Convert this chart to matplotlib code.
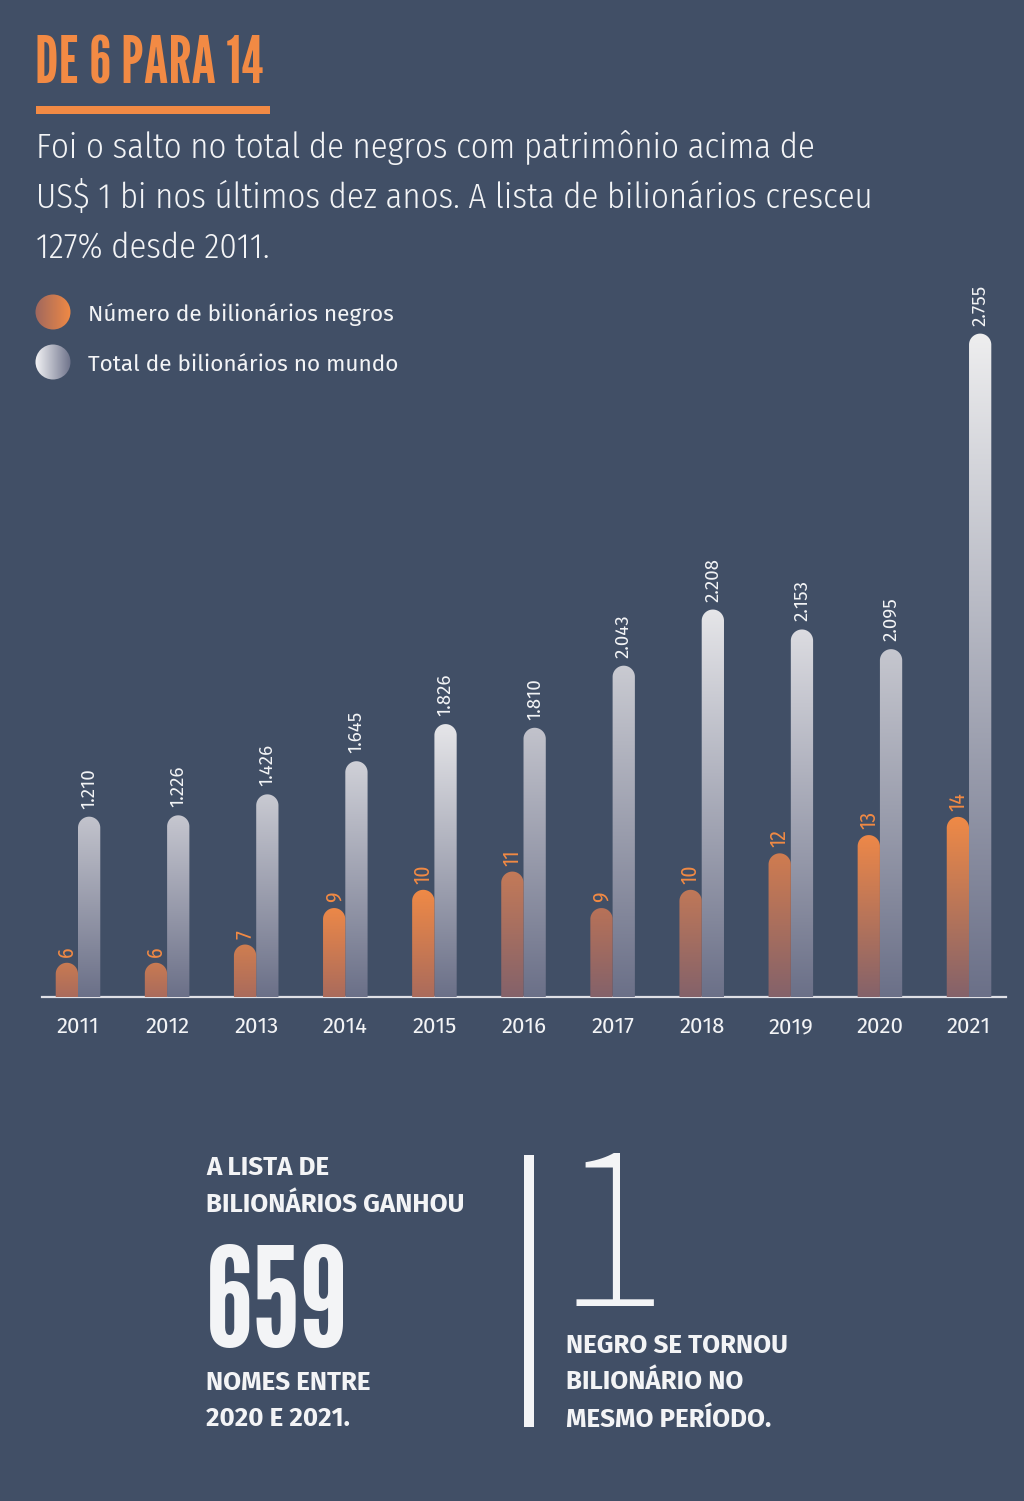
import numpy as np
import matplotlib
matplotlib.use("Agg")
import matplotlib.pyplot as plt
from matplotlib import font_manager as fm
from matplotlib.path import Path
from matplotlib.patches import Rectangle
from matplotlib.transforms import IdentityTransform
from matplotlib.colors import to_rgb

# ---------------- data ----------------
years = ["2011", "2012", "2013", "2014", "2015", "2016", "2017", "2018", "2019", "2020", "2021"]
total_billionaires = [1210, 1226, 1426, 1645, 1826, 1810, 2043, 2208, 2153, 2095, 2755]
black_billionaires = [6, 6, 7, 9, 10, 11, 9, 10, 12, 13, 14]

title = "DE 6 PARA 14"
subtitle_lines = ["Foi o salto no total de negros com patrimônio acima de",
                  "US$ 1 bi nos últimos dez anos. A lista de bilionários cresceu",
                  "127% desde 2011."]
legend_labels = ["Número de bilionários negros", "Total de bilionários no mundo"]
left_block = ["A LISTA DE", "BILIONÁRIOS GANHOU", "659", "NOMES ENTRE", "2020 E 2021."]
right_block = ["1", "NEGRO SE TORNOU", "BILIONÁRIO NO", "MESMO PERÍODO."]

# ---------------- style ----------------
BG = "#414f66"
ORANGE = "#f28a44"
WHITE = "#f3f4f6"
GREY_BOTTOM = "#6b7088"
grey_tops = ["#c3c4cd", "#c6c7d0", "#c9cad2", "#d0d1d8", "#e6e6e9", "#c2c3cc",
             "#cacbd2", "#e6e6e9", "#dcdce1", "#c6c7cf", "#eeeeef"]
orange_tops = ["#c97b52", "#c97b52", "#d07e50", "#ec8848", "#f08a46", "#c47a58",
               "#b87258", "#c07858", "#d07c50", "#ee8848", "#f08a46"]
orange_bottoms = ["#aa6b5c", "#aa6b5c", "#aa6b5c", "#aa6b5c", "#aa6b5c", "#84626a",
                  "#84626a", "#84626a", "#84626a", "#84626a", "#84626a"]

_names = {f.name for f in fm.fontManager.ttflist}


def pick(*cands):
    for c in cands:
        if c in _names:
            return [c, "DejaVu Sans"]
    return ["DejaVu Sans"]


F_TITLE = pick("League Gothic", "Saira ExtraCondensed")
F_BIG = pick("League Gothic", "Saira ExtraCondensed")
F_ONE = pick("Source Sans 3", "Fira Sans Extra Condensed")
F_BODY = pick("Fira Sans Condensed", "Fira Sans", "Noto Sans")
F_UI = pick("Fira Sans", "Noto Sans")
F_LAB = pick("Fira Sans", "Noto Sans")
F_NUM = pick("Fira Sans Condensed", "Fira Sans", "Noto Sans")

W, H = 1024, 1501
fig = plt.figure(figsize=(W / 100, H / 100), dpi=100, facecolor=BG)


def fx(px):
    return px / W


def fy(py):
    return 1 - py / H


def ftext(x, y, s, **kw):
    return fig.text(fx(x), fy(y), s, **kw)


# ---------------- axes ----------------
AX_L, AX_R, AX_B, AX_T = 42, 1006, 997, 230
ax = fig.add_axes([fx(AX_L), fy(AX_B), (AX_R - AX_L) / W, (AX_B - AX_T) / H])
ax.patch.set_visible(False)

P = 3.5


def fwd(v):
    v = np.asarray(v, float) / 1000.0
    return np.sign(v) * np.abs(v) ** P


def inv(u):
    u = np.asarray(u, float)
    return np.sign(u) * np.abs(u) ** (1.0 / P) * 1000.0


ax.set_yscale("function", functions=(fwd, inv))
ax.set_ylim(-1946, 2904)
ax.set_xlim(-0.404, 10.415)
ax.set_yticks([])
for s in ["left", "right", "top"]:
    ax.spines[s].set_visible(False)
ax.spines["bottom"].set_color("#dfe0e6")
ax.spines["bottom"].set_linewidth(1.6)
ax.set_xticks(range(len(years)), labels=years)
ax.tick_params(axis="x", length=0, pad=26, labelsize=16, labelcolor=WHITE)
for lab in ax.get_xticklabels():
    lab.set_fontfamily(F_UI)
    lab.set_fontweight(400)
    lab.set_verticalalignment("baseline")

ax2 = ax.twinx()
ax2.set_ylim(4.124, 46.17)
ax2.axis("off")

BW = 0.25
x = np.arange(len(years))


def gradient_fill(path, x0, y0, x1, y1, c_bot, c_top, z=3, horizontal=False):
    ix0, iy0 = int(np.floor(x0)), int(np.floor(y0))
    w = int(np.ceil(x1)) - ix0 + 1
    h = int(np.ceil(y1)) - iy0 + 1
    c0 = np.array(to_rgb(c_bot))
    c1 = np.array(to_rgb(c_top))
    if horizontal:
        t = np.linspace(0, 1, w)[None, :, None]
    else:
        t = np.linspace(0, 1, h)[:, None, None]
    arr = np.broadcast_to(c0 + (c1 - c0) * t, (h, w, 3)).copy()
    im = fig.figimage(arr, xo=ix0, yo=iy0, origin="lower", zorder=z)
    im.set_clip_path(path, IdentityTransform())
    return im


def rounded_from_rect(axis, rect, c_top, c_bot):
    x0, yb = axis.transData.transform((rect.get_x(), rect.get_y()))
    x1, yt = axis.transData.transform((rect.get_x() + rect.get_width(), rect.get_y() + rect.get_height()))
    r = (x1 - x0) / 2
    cx = (x0 + x1) / 2
    th = np.linspace(np.pi, 0, 40)
    arc = np.column_stack([cx + r * np.cos(th), yt - r + r * np.sin(th)])
    verts = np.vstack([[x0, yb], [x0, yt - r], arc, [x1, yt - r], [x1, yb], [x0, yb]])
    codes = [Path.MOVETO] + [Path.LINETO] * (len(verts) - 2) + [Path.CLOSEPOLY]
    gradient_fill(Path(verts, codes), x0, yb, x1, yt, c_bot, c_top)


grey_base = ax.get_ylim()[0]
grey_bars = ax.bar(x + BW / 2, np.array(total_billionaires) - grey_base, bottom=grey_base,
                   width=BW, color="none", linewidth=0)
orange_base = ax2.get_ylim()[0]
orange_bars = ax2.bar(x - BW / 2, np.array(black_billionaires) - orange_base, bottom=orange_base,
                      width=BW, color="none", linewidth=0)

for i, rect in enumerate(grey_bars):
    rounded_from_rect(ax, rect, grey_tops[i], GREY_BOTTOM)
for i, rect in enumerate(orange_bars):
    rounded_from_rect(ax2, rect, orange_tops[i], orange_bottoms[i])

for i, v in enumerate(total_billionaires):
    ax.annotate(f"{v:,}".replace(",", "."), (x[i] + BW / 2, v), xytext=(0, 8),
                textcoords="offset pixels", rotation=90, ha="center", va="bottom",
                color=WHITE, fontsize=13.5, family=F_UI)
for i, v in enumerate(black_billionaires):
    ax2.annotate(str(v), (x[i] - BW / 2, v), xytext=(0, 6),
                 textcoords="offset pixels", rotation=90, ha="center", va="bottom",
                 color=ORANGE, fontsize=15.5, family=F_NUM, fontweight=400)

# ---------------- header ----------------
ftext(35, 83, title, fontsize=46, color=ORANGE, family=F_TITLE, va="baseline")
fig.add_artist(Rectangle((fx(36), fy(114)), (270 - 36) / W, 8 / H, transform=fig.transFigure,
                         color=ORANGE, lw=0))
for k, line in enumerate(subtitle_lines):
    ftext(36, 158 + 50 * k, line, fontsize=25, color=WHITE, family=F_BODY, fontweight=300,
          va="baseline")

# legend
leg_colors = [("#a0685e", ORANGE), ("#f2f2f4", GREY_BOTTOM)]
for k, lab in enumerate(legend_labels):
    cy = 312 + 50 * k
    cx, r = 53, 17.5
    circ = Path.circle((cx, H - cy), r)
    gradient_fill(circ, cx - r, H - cy - r, cx + r, H - cy + r, leg_colors[k][0], leg_colors[k][1],
                  horizontal=True)
    ftext(88, 321 + 50 * k, lab, fontsize=16.3, color=WHITE, family=F_UI, fontweight=400, va="baseline")

# ---------------- bottom block ----------------
lab_kw = dict(fontsize=18.7, color=WHITE, family=F_LAB, fontweight=700, va="baseline")
ftext(206, 1175, left_block[0], **lab_kw)
ftext(206, 1212, left_block[1], **lab_kw)
ftext(206, 1347, left_block[2], fontsize=100, color=WHITE, family=F_BIG, va="baseline")
ftext(206, 1390, left_block[3], **lab_kw)
ftext(206, 1426, left_block[4], **lab_kw)

fig.add_artist(Rectangle((fx(524), fy(1427)), 10 / W, (1427 - 1155) / H, transform=fig.transFigure,
                         color=WHITE, lw=0))

ftext(556, 1306, right_block[0], fontsize=172, color=WHITE, family=F_ONE, fontweight=200, va="baseline")
ftext(566, 1353, right_block[1], **lab_kw)
ftext(566, 1389, right_block[2], **lab_kw)
ftext(566, 1427, right_block[3], **lab_kw)

fig.savefig("out.png", dpi=100, facecolor=BG)
